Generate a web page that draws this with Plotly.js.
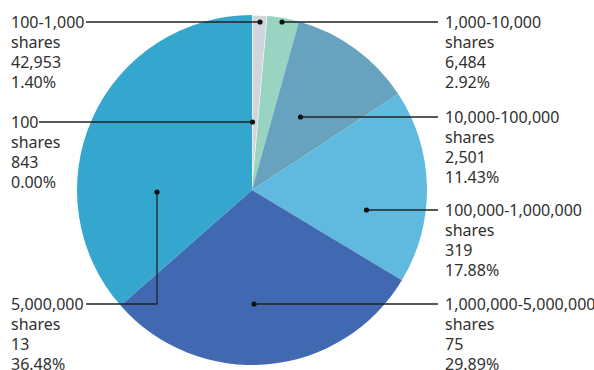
<!DOCTYPE html>
<html>
<head>
<meta charset="utf-8">
<script src="https://cdn.plot.ly/plotly-3.0.1.min.js"></script>
<style>html,body{margin:0;padding:0;background:#fff;}#chart{width:594px;height:370px;}</style>
</head>
<body>
<div id="chart"></div>
<script>
// ---- data ----
var categories = ["100", "100-1,000", "1,000-10,000", "10,000-100,000", "100,000-1,000,000", "1,000,000-5,000,000", "5,000,000"];
var holders = ["843", "42,953", "6,484", "2,501", "319", "75", "13"];
var percents = [0.00, 1.40, 2.92, 11.43, 17.88, 29.89, 36.48];
var unitLabel = "shares";

// ---- styling / layout (pixel positions of labels and leader lines) ----
var colors = ["#ffffff", "#cfd6de", "#98d4c1", "#67a3bf", "#60badf", "#4169b1", "#35a6cd"];
var W = 594, H = 370;
var labelLayout = [
  {tx: 9,   ty: 122, lineFrom: 39,  dot: [252.5, 122]},
  {tx: 9,   ty: 22,  lineFrom: 86,  dot: [260, 22]},
  {tx: 443, ty: 22,  lineFrom: 438, dot: [282, 22]},
  {tx: 443, ty: 117, lineFrom: 438, dot: [300.5, 117]},
  {tx: 443, ty: 210, lineFrom: 438, dot: [366.5, 210]},
  {tx: 443, ty: 304, lineFrom: 438, dot: [254, 304]},
  {tx: 9,   ty: 304, lineFrom: 86,  dot: [157, 192], elbowX: 157}
];
var lineStep = 20;
var textColor = "#303030";
var leaderColor = "#222222";

function px(x) { return x / W; }
function py(y) { return 1 - y / H; }

var annotations = [];
var shapes = [];
categories.forEach(function (cat, i) {
  var L = labelLayout[i];
  var lines = [cat, unitLabel, holders[i], percents[i].toFixed(2) + "%"];
  lines.forEach(function (t, k) {
    annotations.push({
      xref: "paper", yref: "paper",
      x: px(L.tx), y: py(L.ty + k * lineStep),
      xanchor: "left", yanchor: "middle",
      text: t, showarrow: false, align: "left",
      font: {family: "Noto Sans", size: 16, color: textColor}
    });
  });
  if (L.elbowX !== undefined) {
    shapes.push({type: "line", xref: "paper", yref: "paper",
      x0: px(L.lineFrom), y0: py(L.ty), x1: px(L.elbowX), y1: py(L.ty),
      line: {color: leaderColor, width: 1.3}});
    shapes.push({type: "line", xref: "paper", yref: "paper",
      x0: px(L.elbowX), y0: py(L.ty), x1: px(L.dot[0]), y1: py(L.dot[1]),
      line: {color: leaderColor, width: 1.3}});
  } else {
    shapes.push({type: "line", xref: "paper", yref: "paper",
      x0: px(L.lineFrom), y0: py(L.ty), x1: px(L.dot[0]), y1: py(L.dot[1]),
      line: {color: leaderColor, width: 1.3}});
  }
  var r = 2.6;
  shapes.push({type: "circle", xref: "paper", yref: "paper",
    x0: px(L.dot[0] - r), x1: px(L.dot[0] + r),
    y0: py(L.dot[1] + r), y1: py(L.dot[1] - r),
    fillcolor: "#111111", line: {width: 0}});
});

var trace = {
  type: "pie",
  labels: categories,
  values: percents,
  sort: false,
  direction: "clockwise",
  rotation: 0,
  textinfo: "none",
  hoverinfo: "label+value",
  marker: {colors: colors, line: {color: "#ffffff", width: [0, 1.2, 0, 0, 0, 0, 0]}},
  domain: {x: [px(77), px(427)], y: [py(365), py(15)]},
  showlegend: false
};

var layout = {
  width: W, height: H,
  margin: {l: 0, r: 0, t: 0, b: 0},
  paper_bgcolor: "#ffffff",
  plot_bgcolor: "#ffffff",
  showlegend: false,
  annotations: annotations,
  shapes: shapes
};

Plotly.newPlot("chart", [trace], layout, {displayModeBar: false, staticPlot: true});
</script>
</body>
</html>
